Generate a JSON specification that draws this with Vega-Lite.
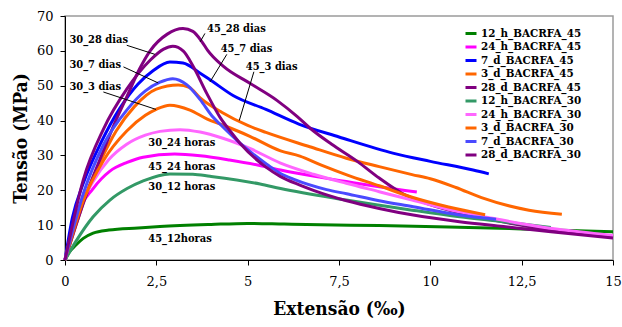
{
  "$schema": "https://vega.github.io/schema/vega-lite/v6.json",
  "width": 548,
  "height": 244,
  "autosize": {"type": "none"},
  "padding": {"left": 65, "top": 16, "right": 9, "bottom": 67},
  "background": "white",
  "config": {"view": {"stroke": "#9a9a9a", "strokeWidth": 1.5}, "axis": {"labelOverlap": false}},
  "datasets": {
    "curvas": [
      {"serie": "12_h_BACRFA_45", "x": 0, "y": 0}, {"serie": "12_h_BACRFA_45", "x": 0.1, "y": 2}, {"serie": "12_h_BACRFA_45", "x": 0.3, "y": 4.3}, {"serie": "12_h_BACRFA_45", "x": 0.5, "y": 6.2}, {"serie": "12_h_BACRFA_45", "x": 0.77, "y": 7.7}, {"serie": "12_h_BACRFA_45", "x": 1.2, "y": 8.6}, {"serie": "12_h_BACRFA_45", "x": 2, "y": 9.2}, {"serie": "12_h_BACRFA_45", "x": 2.6, "y": 9.6}, {"serie": "12_h_BACRFA_45", "x": 4, "y": 10.2}, {"serie": "12_h_BACRFA_45", "x": 5, "y": 10.5}, {"serie": "12_h_BACRFA_45", "x": 6, "y": 10.3}, {"serie": "12_h_BACRFA_45", "x": 7, "y": 10.1}, {"serie": "12_h_BACRFA_45", "x": 8.6, "y": 9.9}, {"serie": "12_h_BACRFA_45", "x": 10.5, "y": 9.5}, {"serie": "12_h_BACRFA_45", "x": 12.5, "y": 8.9}, {"serie": "12_h_BACRFA_45", "x": 15, "y": 8.1},
      {"serie": "24_h_BACRFA_45", "x": 0, "y": 0}, {"serie": "24_h_BACRFA_45", "x": 0.33, "y": 13}, {"serie": "24_h_BACRFA_45", "x": 0.77, "y": 20.5}, {"serie": "24_h_BACRFA_45", "x": 1.23, "y": 25.5}, {"serie": "24_h_BACRFA_45", "x": 1.7, "y": 28}, {"serie": "24_h_BACRFA_45", "x": 2.14, "y": 29.5}, {"serie": "24_h_BACRFA_45", "x": 3.0, "y": 30.4}, {"serie": "24_h_BACRFA_45", "x": 3.7, "y": 29.9}, {"serie": "24_h_BACRFA_45", "x": 4.5, "y": 28.7}, {"serie": "24_h_BACRFA_45", "x": 5.3, "y": 27.2}, {"serie": "24_h_BACRFA_45", "x": 5.9, "y": 25.8}, {"serie": "24_h_BACRFA_45", "x": 7.0, "y": 23.7}, {"serie": "24_h_BACRFA_45", "x": 7.7, "y": 22.5}, {"serie": "24_h_BACRFA_45", "x": 8.6, "y": 21}, {"serie": "24_h_BACRFA_45", "x": 9.63, "y": 19.5},
      {"serie": "7_d_BACRFA_45", "x": 0, "y": 0}, {"serie": "7_d_BACRFA_45", "x": 0.2, "y": 12}, {"serie": "7_d_BACRFA_45", "x": 0.5, "y": 22}, {"serie": "7_d_BACRFA_45", "x": 1.0, "y": 34}, {"serie": "7_d_BACRFA_45", "x": 1.5, "y": 43.5}, {"serie": "7_d_BACRFA_45", "x": 2.0, "y": 50.5}, {"serie": "7_d_BACRFA_45", "x": 2.4, "y": 54.2}, {"serie": "7_d_BACRFA_45", "x": 2.87, "y": 56.8}, {"serie": "7_d_BACRFA_45", "x": 3.23, "y": 56.5}, {"serie": "7_d_BACRFA_45", "x": 3.7, "y": 53.6}, {"serie": "7_d_BACRFA_45", "x": 4.0, "y": 51.5}, {"serie": "7_d_BACRFA_45", "x": 4.6, "y": 47.2}, {"serie": "7_d_BACRFA_45", "x": 5.5, "y": 43.2}, {"serie": "7_d_BACRFA_45", "x": 6.4, "y": 39}, {"serie": "7_d_BACRFA_45", "x": 7.5, "y": 35.3}, {"serie": "7_d_BACRFA_45", "x": 9.0, "y": 30.6}, {"serie": "7_d_BACRFA_45", "x": 10, "y": 28.3}, {"serie": "7_d_BACRFA_45", "x": 11.17, "y": 25.8}, {"serie": "7_d_BACRFA_45", "x": 11.6, "y": 24.7},
      {"serie": "3_d_BACRFA_45", "x": 0, "y": 0}, {"serie": "3_d_BACRFA_45", "x": 0.3, "y": 10}, {"serie": "3_d_BACRFA_45", "x": 0.6, "y": 19.5}, {"serie": "3_d_BACRFA_45", "x": 1.0, "y": 29}, {"serie": "3_d_BACRFA_45", "x": 1.4, "y": 37}, {"serie": "3_d_BACRFA_45", "x": 1.9, "y": 44}, {"serie": "3_d_BACRFA_45", "x": 2.5, "y": 49}, {"serie": "3_d_BACRFA_45", "x": 3.1, "y": 50.2}, {"serie": "3_d_BACRFA_45", "x": 3.4, "y": 49.5}, {"serie": "3_d_BACRFA_45", "x": 3.7, "y": 46.5}, {"serie": "3_d_BACRFA_45", "x": 4.3, "y": 42.3}, {"serie": "3_d_BACRFA_45", "x": 5.0, "y": 38.6}, {"serie": "3_d_BACRFA_45", "x": 5.5, "y": 36.6}, {"serie": "3_d_BACRFA_45", "x": 6.7, "y": 32.5}, {"serie": "3_d_BACRFA_45", "x": 7.7, "y": 29.2}, {"serie": "3_d_BACRFA_45", "x": 8.6, "y": 26.8}, {"serie": "3_d_BACRFA_45", "x": 9.5, "y": 24.5}, {"serie": "3_d_BACRFA_45", "x": 10, "y": 23.3}, {"serie": "3_d_BACRFA_45", "x": 10.7, "y": 20.8}, {"serie": "3_d_BACRFA_45", "x": 11.4, "y": 17.9}, {"serie": "3_d_BACRFA_45", "x": 12.7, "y": 14.3}, {"serie": "3_d_BACRFA_45", "x": 13.6, "y": 13.1},
      {"serie": "28_d_BACRFA_45", "x": 0, "y": 0}, {"serie": "28_d_BACRFA_45", "x": 0.3, "y": 10}, {"serie": "28_d_BACRFA_45", "x": 0.7, "y": 22}, {"serie": "28_d_BACRFA_45", "x": 1.0, "y": 30}, {"serie": "28_d_BACRFA_45", "x": 1.37, "y": 39.5}, {"serie": "28_d_BACRFA_45", "x": 1.7, "y": 47}, {"serie": "28_d_BACRFA_45", "x": 2.05, "y": 55}, {"serie": "28_d_BACRFA_45", "x": 2.33, "y": 60}, {"serie": "28_d_BACRFA_45", "x": 2.8, "y": 64.8}, {"serie": "28_d_BACRFA_45", "x": 3.23, "y": 66.4}, {"serie": "28_d_BACRFA_45", "x": 3.5, "y": 65.6}, {"serie": "28_d_BACRFA_45", "x": 3.75, "y": 62.6}, {"serie": "28_d_BACRFA_45", "x": 3.9, "y": 60.2}, {"serie": "28_d_BACRFA_45", "x": 4.33, "y": 55.6}, {"serie": "28_d_BACRFA_45", "x": 5.06, "y": 50.7}, {"serie": "28_d_BACRFA_45", "x": 5.8, "y": 45.8}, {"serie": "28_d_BACRFA_45", "x": 6.35, "y": 41.2}, {"serie": "28_d_BACRFA_45", "x": 6.71, "y": 37.8}, {"serie": "28_d_BACRFA_45", "x": 7.3, "y": 33.2}, {"serie": "28_d_BACRFA_45", "x": 8.0, "y": 28.3}, {"serie": "28_d_BACRFA_45", "x": 8.6, "y": 23.5}, {"serie": "28_d_BACRFA_45", "x": 9.2, "y": 19.3}, {"serie": "28_d_BACRFA_45", "x": 9.8, "y": 16.6}, {"serie": "28_d_BACRFA_45", "x": 10.5, "y": 14.3}, {"serie": "28_d_BACRFA_45", "x": 11.2, "y": 12.6}, {"serie": "28_d_BACRFA_45", "x": 12.3, "y": 10.3}, {"serie": "28_d_BACRFA_45", "x": 13.6, "y": 8.1}, {"serie": "28_d_BACRFA_45", "x": 15, "y": 6.6},
      {"serie": "12_h_BACRFA_30", "x": 0, "y": 0}, {"serie": "12_h_BACRFA_30", "x": 0.32, "y": 5.7}, {"serie": "12_h_BACRFA_30", "x": 0.77, "y": 12.4}, {"serie": "12_h_BACRFA_30", "x": 1.23, "y": 17.2}, {"serie": "12_h_BACRFA_30", "x": 1.7, "y": 20.5}, {"serie": "12_h_BACRFA_30", "x": 2.14, "y": 22.7}, {"serie": "12_h_BACRFA_30", "x": 2.87, "y": 24.7}, {"serie": "12_h_BACRFA_30", "x": 3.5, "y": 24.6}, {"serie": "12_h_BACRFA_30", "x": 3.97, "y": 24}, {"serie": "12_h_BACRFA_30", "x": 5.34, "y": 21.8}, {"serie": "12_h_BACRFA_30", "x": 5.9, "y": 20.5}, {"serie": "12_h_BACRFA_30", "x": 7.7, "y": 17.2}, {"serie": "12_h_BACRFA_30", "x": 9.5, "y": 14.3}, {"serie": "12_h_BACRFA_30", "x": 10.8, "y": 12.4}, {"serie": "12_h_BACRFA_30", "x": 12.0, "y": 11}, {"serie": "12_h_BACRFA_30", "x": 13.3, "y": 9.3},
      {"serie": "24_h_BACRFA_30", "x": 0, "y": 0}, {"serie": "24_h_BACRFA_30", "x": 0.32, "y": 13}, {"serie": "24_h_BACRFA_30", "x": 0.77, "y": 22.5}, {"serie": "24_h_BACRFA_30", "x": 1.2, "y": 28.8}, {"serie": "24_h_BACRFA_30", "x": 1.69, "y": 33.2}, {"serie": "24_h_BACRFA_30", "x": 2.2, "y": 35.8}, {"serie": "24_h_BACRFA_30", "x": 2.6, "y": 36.9}, {"serie": "24_h_BACRFA_30", "x": 3.15, "y": 37.4}, {"serie": "24_h_BACRFA_30", "x": 3.7, "y": 36.7}, {"serie": "24_h_BACRFA_30", "x": 4.3, "y": 35}, {"serie": "24_h_BACRFA_30", "x": 5.06, "y": 32}, {"serie": "24_h_BACRFA_30", "x": 5.9, "y": 27.8}, {"serie": "24_h_BACRFA_30", "x": 6.8, "y": 24.6}, {"serie": "24_h_BACRFA_30", "x": 7.7, "y": 22}, {"serie": "24_h_BACRFA_30", "x": 8.6, "y": 19.6}, {"serie": "24_h_BACRFA_30", "x": 9.5, "y": 17.2}, {"serie": "24_h_BACRFA_30", "x": 10.8, "y": 13.8}, {"serie": "24_h_BACRFA_30", "x": 11.7, "y": 12}, {"serie": "24_h_BACRFA_30", "x": 12.5, "y": 10.4}, {"serie": "24_h_BACRFA_30", "x": 13.5, "y": 8.8}, {"serie": "24_h_BACRFA_30", "x": 15, "y": 7},
      {"serie": "3_d_BACRFA_30", "x": 0, "y": 0}, {"serie": "3_d_BACRFA_30", "x": 0.5, "y": 17}, {"serie": "3_d_BACRFA_30", "x": 1.05, "y": 28.5}, {"serie": "3_d_BACRFA_30", "x": 1.69, "y": 37}, {"serie": "3_d_BACRFA_30", "x": 2.2, "y": 41.5}, {"serie": "3_d_BACRFA_30", "x": 2.51, "y": 43.3}, {"serie": "3_d_BACRFA_30", "x": 2.87, "y": 44.4}, {"serie": "3_d_BACRFA_30", "x": 3.42, "y": 43}, {"serie": "3_d_BACRFA_30", "x": 3.88, "y": 40.5}, {"serie": "3_d_BACRFA_30", "x": 4.3, "y": 38.8}, {"serie": "3_d_BACRFA_30", "x": 5.06, "y": 35.5}, {"serie": "3_d_BACRFA_30", "x": 5.9, "y": 31.3}, {"serie": "3_d_BACRFA_30", "x": 6.43, "y": 29.8}, {"serie": "3_d_BACRFA_30", "x": 7.0, "y": 27.3}, {"serie": "3_d_BACRFA_30", "x": 7.75, "y": 24.3}, {"serie": "3_d_BACRFA_30", "x": 8.6, "y": 21.3}, {"serie": "3_d_BACRFA_30", "x": 9.5, "y": 18}, {"serie": "3_d_BACRFA_30", "x": 10.5, "y": 15.2}, {"serie": "3_d_BACRFA_30", "x": 11.5, "y": 13},
      {"serie": "7_d_BACRFA_30", "x": 0, "y": 0}, {"serie": "7_d_BACRFA_30", "x": 0.5, "y": 19}, {"serie": "7_d_BACRFA_30", "x": 1.05, "y": 33}, {"serie": "7_d_BACRFA_30", "x": 1.69, "y": 43}, {"serie": "7_d_BACRFA_30", "x": 2.2, "y": 48.5}, {"serie": "7_d_BACRFA_30", "x": 2.6, "y": 51}, {"serie": "7_d_BACRFA_30", "x": 2.95, "y": 52}, {"serie": "7_d_BACRFA_30", "x": 3.33, "y": 50.3}, {"serie": "7_d_BACRFA_30", "x": 3.7, "y": 46}, {"serie": "7_d_BACRFA_30", "x": 4.05, "y": 41}, {"serie": "7_d_BACRFA_30", "x": 4.24, "y": 39}, {"serie": "7_d_BACRFA_30", "x": 4.79, "y": 33.5}, {"serie": "7_d_BACRFA_30", "x": 5.52, "y": 27.5}, {"serie": "7_d_BACRFA_30", "x": 5.9, "y": 24.8}, {"serie": "7_d_BACRFA_30", "x": 6.25, "y": 23.2}, {"serie": "7_d_BACRFA_30", "x": 7.16, "y": 20.2}, {"serie": "7_d_BACRFA_30", "x": 7.71, "y": 19}, {"serie": "7_d_BACRFA_30", "x": 8.6, "y": 17}, {"serie": "7_d_BACRFA_30", "x": 9.53, "y": 15.3}, {"serie": "7_d_BACRFA_30", "x": 10.8, "y": 12.9}, {"serie": "7_d_BACRFA_30", "x": 11.8, "y": 11.7},
      {"serie": "28_d_BACRFA_30", "x": 0, "y": 0}, {"serie": "28_d_BACRFA_30", "x": 0.5, "y": 23}, {"serie": "28_d_BACRFA_30", "x": 1.05, "y": 37.5}, {"serie": "28_d_BACRFA_30", "x": 1.69, "y": 49}, {"serie": "28_d_BACRFA_30", "x": 2.33, "y": 57.3}, {"serie": "28_d_BACRFA_30", "x": 2.7, "y": 60.5}, {"serie": "28_d_BACRFA_30", "x": 2.95, "y": 61.3}, {"serie": "28_d_BACRFA_30", "x": 3.24, "y": 59.9}, {"serie": "28_d_BACRFA_30", "x": 3.51, "y": 55.5}, {"serie": "28_d_BACRFA_30", "x": 3.88, "y": 47.8}, {"serie": "28_d_BACRFA_30", "x": 4.24, "y": 41}, {"serie": "28_d_BACRFA_30", "x": 4.52, "y": 37}, {"serie": "28_d_BACRFA_30", "x": 4.79, "y": 33.5}, {"serie": "28_d_BACRFA_30", "x": 5.52, "y": 26.5}, {"serie": "28_d_BACRFA_30", "x": 5.89, "y": 24}, {"serie": "28_d_BACRFA_30", "x": 6.43, "y": 21.5}, {"serie": "28_d_BACRFA_30", "x": 6.8, "y": 20}, {"serie": "28_d_BACRFA_30", "x": 7.71, "y": 17}, {"serie": "28_d_BACRFA_30", "x": 8.6, "y": 14.8}, {"serie": "28_d_BACRFA_30", "x": 9.53, "y": 12.9}, {"serie": "28_d_BACRFA_30", "x": 10.8, "y": 11}, {"serie": "28_d_BACRFA_30", "x": 12, "y": 9.6}, {"serie": "28_d_BACRFA_30", "x": 13.3, "y": 8.1}, {"serie": "28_d_BACRFA_30", "x": 15, "y": 6.3}
    ],
    "guias": [
      {"x": 3.83, "y": 65, "x2": 3.7, "y2": 62.6},
      {"x": 4.43, "y": 59, "x2": 3.97, "y2": 51.1},
      {"x": 5.17, "y": 54, "x2": 4.77, "y2": 40},
      {"x": 1.69, "y": 61.6, "x2": 2.46, "y2": 59},
      {"x": 1.6, "y": 55.4, "x2": 2.55, "y2": 50.8},
      {"x": 1.05, "y": 48.2, "x2": 2.49, "y2": 43.2}
    ],
    "rotulos": [
      {"t": "45_28 dias", "x": 3.89, "y": 66.2},
      {"t": "45_7 dias", "x": 4.26, "y": 60.4},
      {"t": "45_3 dias", "x": 4.95, "y": 55.4},
      {"t": "30_28 dias", "x": 0.12, "y": 63.2},
      {"t": "30_7 dias", "x": 0.12, "y": 55.9},
      {"t": "30_3 dias", "x": 0.12, "y": 49.5},
      {"t": "30_24 horas", "x": 2.28, "y": 33.6},
      {"t": "45_24 horas", "x": 2.28, "y": 26.7},
      {"t": "30_12 horas", "x": 2.28, "y": 21},
      {"t": "45_12horas", "x": 2.28, "y": 5.9}
    ]
  },
  "encoding": {
    "x": {
      "field": "x", "type": "quantitative",
      "scale": {"domain": [0, 15], "nice": false, "zero": false},
      "axis": {
        "title": "Extensão (‰)", "values": [0, 2.5, 5, 7.5, 10, 12.5, 15],
        "labelExpr": "replace(format(datum.value, '.1~f'), '.', ',')",
        "labelOverlap": false,
        "grid": false, "domainColor": "black", "tickColor": "black", "tickSize": 5,
        "labelFont": "DejaVu Serif", "labelFontSize": 13, "labelColor": "black", "labelPadding": 10,
        "labelFlush": false,
        "titleFont": "DejaVu Serif Condensed", "titleFontSize": 19, "titleFontWeight": "bold", "titleColor": "black", "titlePadding": 11
      }
    },
    "y": {
      "field": "y", "type": "quantitative",
      "scale": {"domain": [0, 70], "nice": false},
      "axis": {
        "title": "Tensão (MPa)", "values": [0, 10, 20, 30, 40, 50, 60, 70],
        "labelOverlap": false,
        "grid": false, "domainColor": "black", "tickColor": "black", "tickSize": 5,
        "labelFont": "DejaVu Serif", "labelFontSize": 13, "labelColor": "black", "labelPadding": 7,
        "labelFlush": false,
        "titleFont": "DejaVu Serif Condensed", "titleFontSize": 19, "titleFontWeight": "bold", "titleColor": "black", "titlePadding": 6
      }
    }
  },
  "layer": [
    {
      "data": {"name": "curvas"},
      "mark": {"type": "line", "interpolate": "monotone"},
      "encoding": {
        "color": {
          "field": "serie", "type": "nominal",
          "scale": {
            "domain": ["12_h_BACRFA_45", "24_h_BACRFA_45", "7_d_BACRFA_45", "3_d_BACRFA_45", "28_d_BACRFA_45", "12_h_BACRFA_30", "24_h_BACRFA_30", "3_d_BACRFA_30", "7_d_BACRFA_30", "28_d_BACRFA_30"],
            "range": ["#008000", "#FF00FF", "#0000FF", "#FF6600", "#800080", "#339966", "#FF66FF", "#FF6600", "#4a4aff", "#800080"]
          },
          "legend": {
            "title": null, "orient": "none", "legendX": 399, "legendY": 10.5, "padding": 0,
            "symbolType": "stroke", "symbolSize": 121, "labelOffset": 3, "rowPadding": 0.5,
            "labelFont": "DejaVu Serif Condensed", "labelFontSize": 11.5, "labelFontWeight": "bold", "labelColor": "black",
            "labelLimit": 200
          }
        },
        "strokeWidth": {
          "field": "serie", "type": "nominal",
          "scale": {
            "domain": ["12_h_BACRFA_45", "24_h_BACRFA_45", "7_d_BACRFA_45", "3_d_BACRFA_45", "28_d_BACRFA_45", "12_h_BACRFA_30", "24_h_BACRFA_30", "3_d_BACRFA_30", "7_d_BACRFA_30", "28_d_BACRFA_30"],
            "range": [3, 3, 3, 3, 3, 1, 1.3, 1, 1.3, 1]
          },
          "legend": {
            "title": null, "orient": "none", "legendX": 399, "legendY": 10.5, "padding": 0,
            "symbolType": "stroke", "symbolSize": 121, "labelOffset": 3, "rowPadding": 0.5,
            "labelFont": "DejaVu Serif Condensed", "labelFontSize": 11.5, "labelFontWeight": "bold", "labelColor": "black",
            "labelLimit": 200
          }
        }
      }
    },
    {
      "data": {"name": "guias"},
      "mark": {"type": "rule", "color": "black", "strokeWidth": 1},
      "encoding": {
        "x2": {"field": "x2"},
        "y2": {"field": "y2"}
      }
    },
    {
      "data": {"name": "rotulos"},
      "mark": {"type": "text", "align": "left", "baseline": "middle", "font": "DejaVu Serif Condensed", "fontWeight": "bold", "fontSize": 11, "color": "black"},
      "encoding": {
        "text": {"field": "t"}
      }
    }
  ]
}
